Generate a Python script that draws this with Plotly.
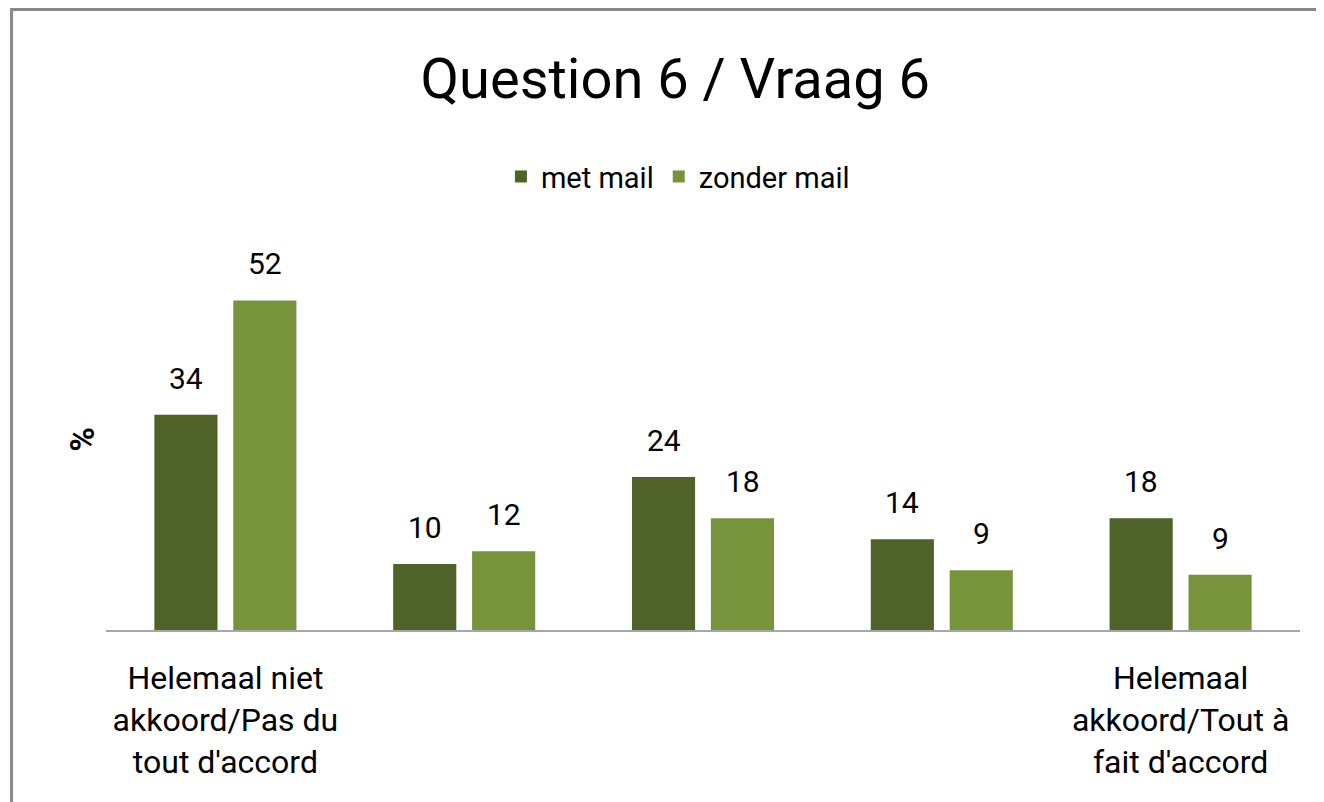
import plotly.graph_objects as go

categories = ["c1", "c2", "c3", "c4", "c5"]
tick_labels = [
    "Helemaal niet<br>akkoord/Pas du<br>tout d'accord",
    "",
    "",
    "",
    "Helemaal<br>akkoord/Tout à<br>fait d'accord",
]
series_names = ["met mail", "zonder mail"]
met_mail = [33.9, 10.4, 24.1, 14.3, 17.6]
zonder_mail = [51.9, 12.4, 17.6, 9.4, 8.7]
colors = ["#4F6228", "#77933C"]

FONT = "Liberation Sans Narrow, Roboto, sans-serif"

fig = go.Figure()
for name, vals, col in zip(series_names, [met_mail, zonder_mail], colors):
    fig.add_trace(go.Bar(
        x=categories, y=vals, name=name, marker=dict(color=col, line=dict(width=0)),
        hoverinfo="skip",
    ))

# data labels above bars
slot = 79
for i, vals in enumerate([met_mail, zonder_mail]):
    shift = -slot / 2 if i == 0 else slot / 2
    for c, v in zip(categories, vals):
        fig.add_annotation(
            x=c, y=v, xref="x", yref="y", text=f"{v:.0f}", showarrow=False,
            yanchor="bottom", xanchor="center", xshift=shift, yshift=17,
            font=dict(family=FONT, size=30, color="#000000"),
        )

# y axis title
fig.add_annotation(
    x=-0.020, y=0.5, xref="paper", yref="paper", text="<b>%</b>", showarrow=False,
    textangle=-90, xanchor="center", yanchor="middle",
    font=dict(family=FONT, size=33, color="#000000"),
)

# outer frame
fig.add_shape(
    type="rect", xref="paper", yref="paper",
    x0=-0.0791, x1=1.2, y0=-1.0, y1=1.6286,
    line=dict(color="#888888", width=3), fillcolor="rgba(0,0,0,0)", layer="above",
)

fig.update_layout(
    width=1324, height=802,
    margin=dict(l=98, r=32, t=241, b=180),
    paper_bgcolor="#ffffff", plot_bgcolor="#ffffff",
    barmode="group", bargap=0.339, bargroupgap=0.2,
    title=dict(
        text="Question 6 / Vraag 6", x=0.504, xanchor="center", y=0.912, yanchor="middle",
        font=dict(family=FONT, size=56, color="#000000"),
    ),
    legend=dict(
        orientation="h", x=0.479, xanchor="center", y=1.19, yanchor="middle",
        font=dict(family=FONT, size=29, color="#000000"),
        itemwidth=30, traceorder="normal",
    ),
    showlegend=True,
    font=dict(family=FONT, color="#000000"),
)
fig.update_xaxes(
    tickvals=categories, ticktext=tick_labels,
    showline=True, linecolor="#A6A6A6", linewidth=2,
    ticks="", showgrid=False, zeroline=False,
    tickfont=dict(family=FONT, size=32, color="#000000"),
    ticklabelstandoff=19,
)
fig.update_yaxes(
    range=[0, 60], showticklabels=False, showgrid=False, zeroline=False,
    showline=False, ticks="",
)

fig.write_html("out.html")
